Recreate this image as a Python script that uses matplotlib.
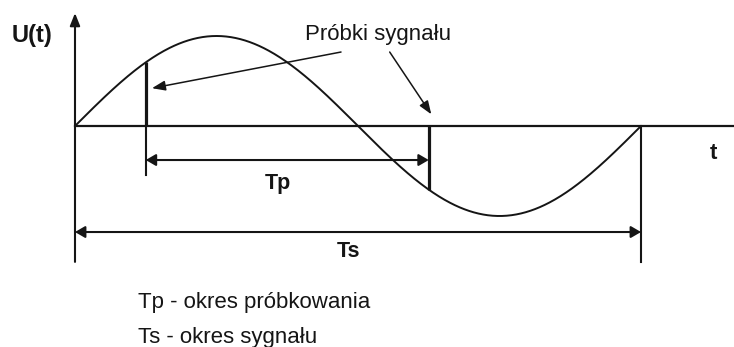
import numpy as np
import matplotlib
matplotlib.use("Agg")
import matplotlib.pyplot as plt

plt.rcParams['font.family'] = ['Liberation Sans', 'DejaVu Sans']

# Signal description (one period of a sine wave, normalised units)
signal_period = 1.0          # Ts
signal_amplitude = 1.0
sample_times = [0.125, 0.625]  # two consecutive samples, Tp = Ts / 2

axis_label_y = "U(t)"
axis_label_x = "t"
label_tp = "Tp"
label_ts = "Ts"
pointer_text = "Próbki sygnału"
legend_lines = ["Tp - okres próbkowania", "Ts - okres sygnału"]

INK = "#151515"

fig = plt.figure(figsize=(7.34, 3.47), dpi=100)
ax = fig.add_axes([0, 0, 1, 1])
ax.set_xlim(-0.1325, 1.1643)
ax.set_ylim(-2.4556, 1.40)
ax.axis("off")

# Signal curve
t = np.linspace(0, signal_period, 600)
u = signal_amplitude * np.sin(2 * np.pi * t / signal_period)
ax.plot(t, u, color=INK, lw=1.4, solid_capstyle="butt")

# Time axis and U axis
ax.plot([0, 1.1643], [0, 0], color=INK, lw=1.6)
ax.annotate("", xy=(0, 1.255), xytext=(0, -1.51),
            arrowprops=dict(arrowstyle="-|>,head_length=0.75,head_width=0.3",
                            color=INK, lw=1.5, mutation_scale=10,
                            shrinkA=0, shrinkB=0))

# End of the signal period
ax.plot([signal_period, signal_period], [0, -1.51], color=INK, lw=1.5)

# Sample lines
sample_values = [signal_amplitude * np.sin(2 * np.pi * ts / signal_period)
                 for ts in sample_times]
for ts, sv in zip(sample_times, sample_values):
    ax.plot([ts, ts], [0, sv], color=INK, lw=2.3, solid_capstyle="butt")
# Extension line for the Tp dimension
ax.plot([sample_times[0]] * 2, [0, -0.545], color=INK, lw=1.5)

# Dimension arrows
dim_style = dict(arrowstyle="<|-|>,head_length=0.6,head_width=0.35",
                 color=INK, lw=1.5, mutation_scale=10, shrinkA=0, shrinkB=0)
tp_y = -0.378
ts_y = -1.178
ax.annotate("", xy=(sample_times[0], tp_y), xytext=(sample_times[1], tp_y),
            arrowprops=dim_style)
ax.annotate("", xy=(0, ts_y), xytext=(signal_period, ts_y),
            arrowprops=dim_style)

ax.text((sample_times[0] + sample_times[1]) / 2 - 0.016, -0.70, label_tp,
        ha="center", va="baseline", fontsize=15.5, fontweight="bold", color=INK)
ax.text(signal_period / 2 - 0.016, -1.456, label_ts,
        ha="center", va="baseline", fontsize=15.5, fontweight="bold", color=INK)

# Axis labels
ax.text(-0.1113, 0.933, axis_label_y, ha="left", va="baseline",
        fontsize=17, fontweight="bold", color=INK)
ax.text(1.122, -0.367, axis_label_x, ha="left", va="baseline",
        fontsize=16, fontweight="bold", color=INK)

# Pointer text with arrows to the two samples
ax.text(0.4064, 0.956, pointer_text, ha="left", va="baseline",
        fontsize=16, color=INK)
ptr_style = dict(arrowstyle="-|>,head_length=0.8,head_width=0.3",
                 color=INK, lw=1.1, mutation_scale=10, shrinkA=0, shrinkB=0)
ax.annotate("", xy=(0.136, 0.42), xytext=(0.470, 0.822), arrowprops=ptr_style)
ax.annotate("", xy=(0.6295, 0.13), xytext=(0.556, 0.822), arrowprops=ptr_style)

# Legend text below the diagram
for line, y in zip(legend_lines, [-2.022, -2.411]):
    ax.text(0.1113, y, line, ha="left", va="baseline", fontsize=16, color=INK)

fig.savefig("out.png", dpi=100)
